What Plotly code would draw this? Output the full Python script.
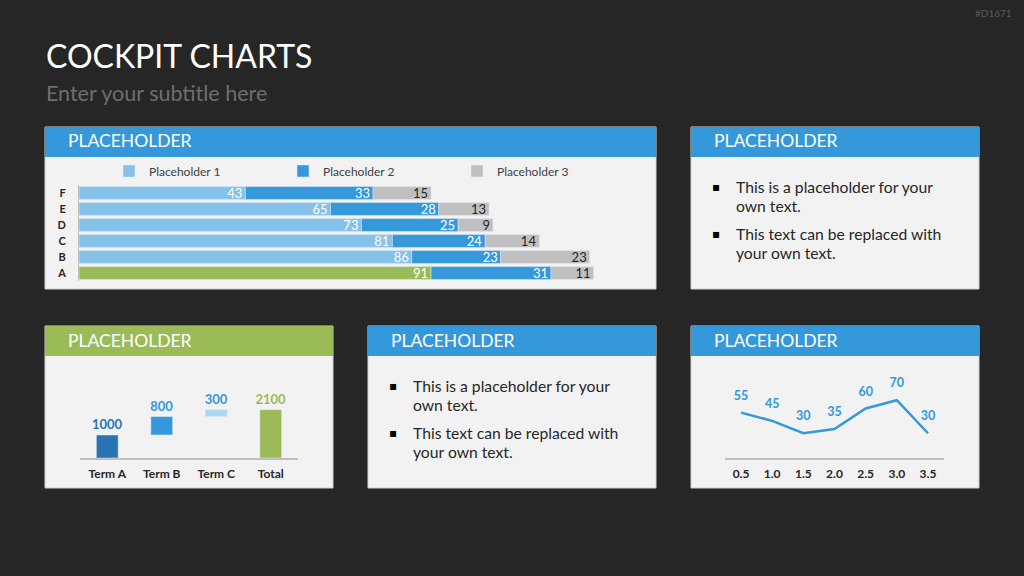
import plotly.graph_objects as go

W, H = 1024, 576
def px(x): return x / W
def py(y): return 1 - y / H

# ---------------- data ----------------
categories = ["F", "E", "D", "C", "B", "A"]
ph1 = [43, 65, 73, 81, 86, 91]
ph2 = [33, 28, 25, 24, 23, 31]
ph3 = [15, 13, 9, 14, 23, 11]
series_names = ["Placeholder 1", "Placeholder 2", "Placeholder 3"]

wf_terms = ["Term A", "Term B", "Term C", "Total"]
wf_values = [1000, 800, 300, 2100]
wf_measure = ["relative", "relative", "relative", "total"]

line_x = [0.5, 1.0, 1.5, 2.0, 2.5, 3.0, 3.5]
line_y = [55, 45, 30, 35, 60, 70, 30]

bullet_lines = [["This is a placeholder for your", "own text."],
                ["This text can be replaced with", "your own text."]]

# ---------------- styles ----------------
BG = "#262626"
PANEL = "#f2f2f2"
BLUE = "#3498db"
LIGHT = "#85c1e9"
GREY = "#bfbfbf"
GREEN = "#9bbb59"
DARKBLUE = "#2874b2"
PALE = "#aed6f1"
TXT = "#262626"
FONT = "Lato"

fig = go.Figure()

# ---- stacked horizontal bar chart ----
p1_colors = [GREEN if c == "A" else LIGHT for c in categories]
base2 = ph1
base3 = [a + b for a, b in zip(ph1, ph2)]
common = dict(orientation="h", y=categories, width=0.8, xaxis="x", yaxis="y",
              textposition="inside", insidetextanchor="end", textangle=0,
              constraintext="none", texttemplate="%{x}", cliponaxis=False)
fig.add_trace(go.Bar(name=series_names[0], x=ph1, marker=dict(color=p1_colors),
                     textfont=dict(color="white", size=13, family=FONT), **common))
fig.add_trace(go.Bar(name=series_names[1], x=ph2, base=base2, marker=dict(color=BLUE),
                     textfont=dict(color="white", size=13, family=FONT), **common))
fig.add_trace(go.Bar(name=series_names[2], x=ph3, base=base3, marker=dict(color=GREY),
                     textfont=dict(color=TXT, size=13, family=FONT), **common))

# ---- waterfall (built from bars with computed bases) ----
wf_base, running = [], 0
for v, m in zip(wf_values, wf_measure):
    if m == "total":
        wf_base.append(0)
    else:
        wf_base.append(running)
        running += v
wf_colors = [DARKBLUE, BLUE, PALE, GREEN]
wf_text_colors = [DARKBLUE, BLUE, BLUE, GREEN]
fig.add_trace(go.Bar(x=wf_terms, y=wf_values, base=wf_base, width=0.4,
                     marker=dict(color=wf_colors), text=[str(v) for v in wf_values],
                     textposition="outside", cliponaxis=False, constraintext="none",
                     textfont=dict(color=wf_text_colors, size=13, family=FONT, weight="bold"),
                     xaxis="x2", yaxis="y2", showlegend=False))

# ---- line chart ----
fig.add_trace(go.Scatter(x=line_x, y=line_y, mode="lines+markers+text",
                         line=dict(color=BLUE, width=2.5),
                         marker=dict(size=14, color="rgba(0,0,0,0)"),
                         text=[str(v) for v in line_y], textposition="top center",
                         textfont=dict(color=BLUE, size=12.5, family=FONT, weight="bold"),
                         cliponaxis=False, xaxis="x3", yaxis="y3", showlegend=False))

# ---------------- panels ----------------
shapes = []
annotations = []
panels = [  # x0, y0, x1, y1, header colour
    (45, 127, 656, 289, BLUE),
    (691, 127, 979, 289, BLUE),
    (45, 326, 333, 488, GREEN),
    (368, 326, 656, 488, BLUE),
    (691, 326, 979, 488, BLUE),
]
for x0, y0, x1, y1, hc in panels:
    shapes.append(dict(type="rect", xref="paper", yref="paper", layer="below",
                       x0=px(x0), x1=px(x1), y0=py(y1), y1=py(y0),
                       fillcolor=PANEL, line=dict(color="#d0d0d0", width=1)))
    shapes.append(dict(type="rect", xref="paper", yref="paper", layer="below",
                       x0=px(x0), x1=px(x1), y0=py(y0 + 30), y1=py(y0),
                       fillcolor=hc, line=dict(width=0)))
    annotations.append(dict(text="PLACEHOLDER", x=px(x0 + 21), y=py(y0 + 14),
                            xref="paper", yref="paper", xanchor="left", yanchor="middle",
                            showarrow=False, font=dict(color="white", size=17.5, family=FONT)))

# text panels
for bx, by in [(716, 187), (393, 386)]:
    for i, para in enumerate(bullet_lines):
        ty = by + i * 47
        annotations.append(dict(text="▪", x=px(bx), y=py(ty), xref="paper", yref="paper",
                                xanchor="center", yanchor="middle", showarrow=False,
                                font=dict(color="black", size=12, family="DejaVu Sans")))
        for j, line in enumerate(para):
            annotations.append(dict(text=line, x=px(bx + 18), y=py(ty + j * 19),
                                    xref="paper", yref="paper", xanchor="left",
                                    yanchor="middle", showarrow=False,
                                    font=dict(color=TXT, size=15.7, family=FONT)))

# titles
annotations += [
    dict(text="COCKPIT CHARTS", x=px(44), y=py(55), xref="paper", yref="paper",
         xanchor="left", yanchor="middle", showarrow=False,
         font=dict(color="white", size=32, family=FONT)),
    dict(text="Enter your subtitle here", x=px(44), y=py(93), xref="paper", yref="paper",
         xanchor="left", yanchor="middle", showarrow=False,
         font=dict(color="#6e6e6e", size=21.5, family=FONT)),
    dict(text="#D1671", x=px(1014), y=py(13), xref="paper", yref="paper",
         xanchor="right", yanchor="middle", showarrow=False,
         font=dict(color="#5a5a5a", size=10, family=FONT)),
]

axis_off = dict(showgrid=False, zeroline=False, showticklabels=False, ticks="")

fig.update_layout(
    width=W, height=H, margin=dict(l=0, r=0, t=0, b=0),
    paper_bgcolor=BG, plot_bgcolor="rgba(0,0,0,0)",
    font=dict(family=FONT, color=TXT),
    barmode="overlay",
    shapes=shapes, annotations=annotations,
    legend=dict(orientation="h", x=px(109), y=py(171), xanchor="left", yanchor="middle",
                entrywidth=129, entrywidthmode="pixels", bgcolor="rgba(0,0,0,0)",
                font=dict(size=12, color="#404040", family=FONT), traceorder="normal",
                itemclick=False, itemdoubleclick=False),
    xaxis=dict(domain=[px(79), px(640)], range=[0, 145], anchor="y", **axis_off),
    yaxis=dict(domain=[py(281), py(185)], range=[5.5, -0.5], type="category", anchor="x",
               showgrid=False, zeroline=False, showline=True, linecolor=GREY, linewidth=1,
               ticks="outside", ticklen=10, tickcolor="rgba(0,0,0,0)",
               tickfont=dict(size=11, color=TXT, family=FONT, weight="bold")),
    xaxis2=dict(domain=[px(80), px(298)], anchor="y2", type="category",
                showgrid=False, zeroline=False, showline=True, linecolor=GREY, linewidth=2,
                ticks="outside", ticklen=4, tickcolor="rgba(0,0,0,0)",
                tickfont=dict(size=12, color=TXT, family=FONT, weight="bold")),
    yaxis2=dict(domain=[py(458), py(366)], range=[0, 4000], anchor="x2", **axis_off),
    xaxis3=dict(domain=[px(725), px(944)], range=[0.243, 3.757], anchor="y3",
                tickvals=line_x, tickformat=".1f",
                showgrid=False, zeroline=False, showline=True, linecolor=GREY, linewidth=2,
                ticks="outside", ticklen=4, tickcolor="rgba(0,0,0,0)",
                tickfont=dict(size=12, color=TXT, family=FONT, weight="bold")),
    yaxis3=dict(domain=[py(458), py(380)], range=[0, 94.5], anchor="x3", **axis_off),
)

fig.write_html("out.html")
